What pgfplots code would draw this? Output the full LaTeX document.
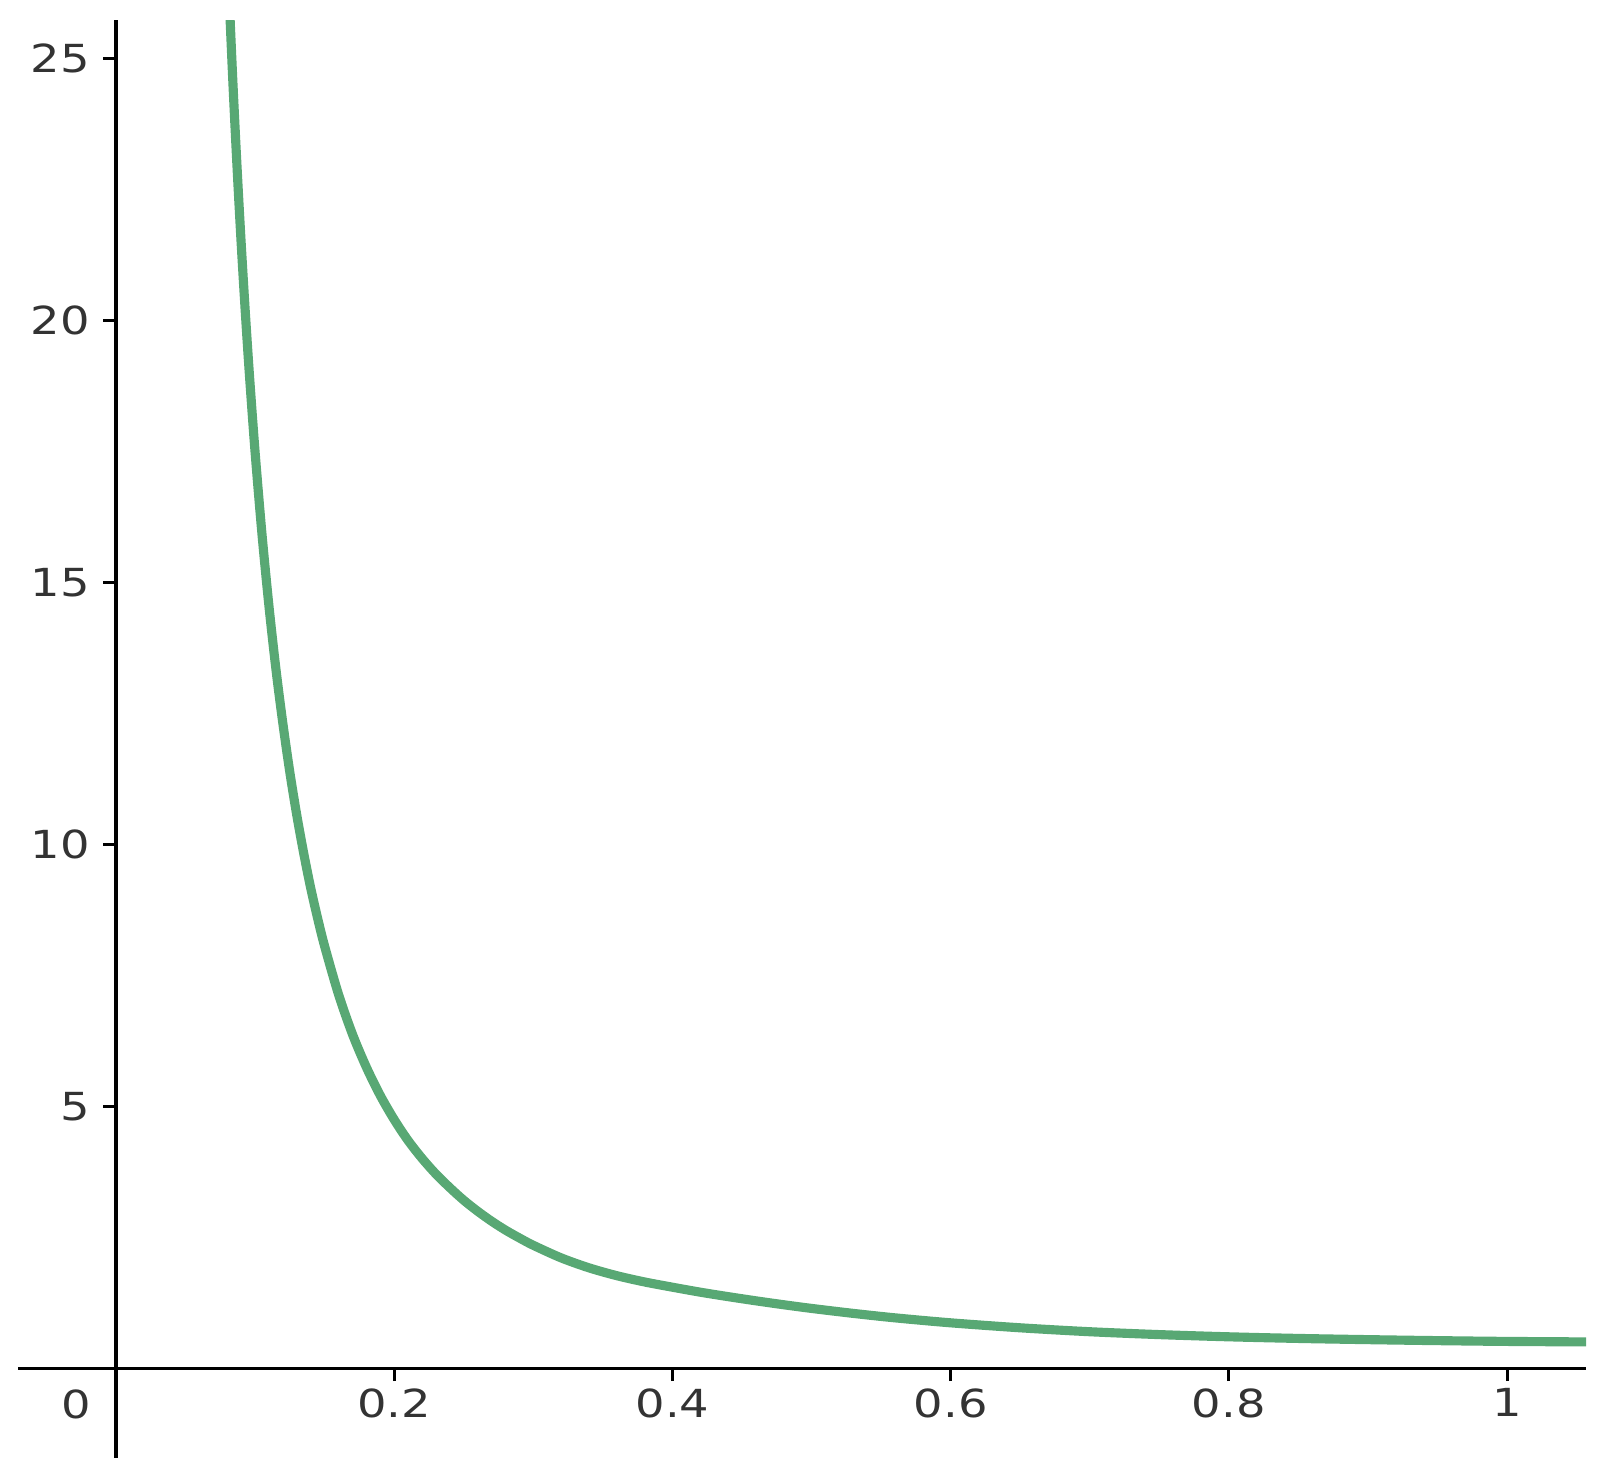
\documentclass[border=0pt]{standalone}
\usepackage{fontspec}
\setmainfont{DejaVu Sans}
\usepackage{pgfplots}
\pgfplotsset{compat=1.18}
\definecolor{curvegreen}{RGB}{88,168,116}

\begin{document}
\begin{tikzpicture}
\begin{axis}[
  scale only axis,
  width=15.676cm, height=14.376cm,
  xmin=-0.0701, xmax=1.0567,
  ymin=-1.71, ymax=25.73,
  axis lines=middle,
  axis line style={-, line width=1pt, black},
  hide obscured x ticks=false,
  xtick={0.2,0.4,0.6,0.8,1},
  ytick={5,10,15,20,25},
  extra x ticks={0},
  extra x tick style={major tick length=0pt, xticklabel style={xshift=-9.4pt, yshift=-3.9pt}},
  tick align=outside,
  major tick length=3.6pt,
  tick style={line width=0.8pt, black},
  /pgf/number format/assume math mode=true,
  ticklabel style={font=\fontsize{11}{13}\selectfont, text=black!80, xscale=1.2},
  xticklabel style={yshift=1.4pt},
  yticklabel style={xshift=0.35pt},
]
\addplot[curvegreen, line width=2.6pt, smooth] coordinates {
  (0.081,26.41) (0.084,24.59) (0.087,22.96) (0.090,21.49) (0.093,20.16)
  (0.096,18.95) (0.100,17.50) (0.105,15.92) (0.110,14.55) (0.115,13.35)
  (0.120,12.31) (0.125,11.38) (0.130,10.56) (0.135,9.83) (0.140,9.17)
  (0.145,8.59) (0.150,8.06) (0.160,7.14) (0.170,6.38) (0.180,5.75)
  (0.190,5.21) (0.200,4.75) (0.210,4.35) (0.220,4.01) (0.230,3.71)
  (0.240,3.45) (0.250,3.21) (0.260,3.00) (0.270,2.81) (0.280,2.64)
  (0.290,2.49) (0.300,2.35) (0.320,2.11) (0.340,1.92) (0.360,1.77)
  (0.380,1.65) (0.400,1.55) (0.420,1.455) (0.440,1.37) (0.460,1.29)
  (0.480,1.215) (0.500,1.145) (0.530,1.05) (0.560,0.965) (0.600,0.87)
  (0.650,0.775) (0.700,0.70) (0.750,0.645) (0.800,0.603) (0.850,0.572)
  (0.900,0.549) (0.950,0.530) (1.000,0.515) (1.060,0.505)
};
\end{axis}
\path (current axis.south west) ++(-0.184cm,-0.12cm);
\path (current axis.north east) ++(0.13cm,0.204cm);
\end{tikzpicture}
\end{document}
